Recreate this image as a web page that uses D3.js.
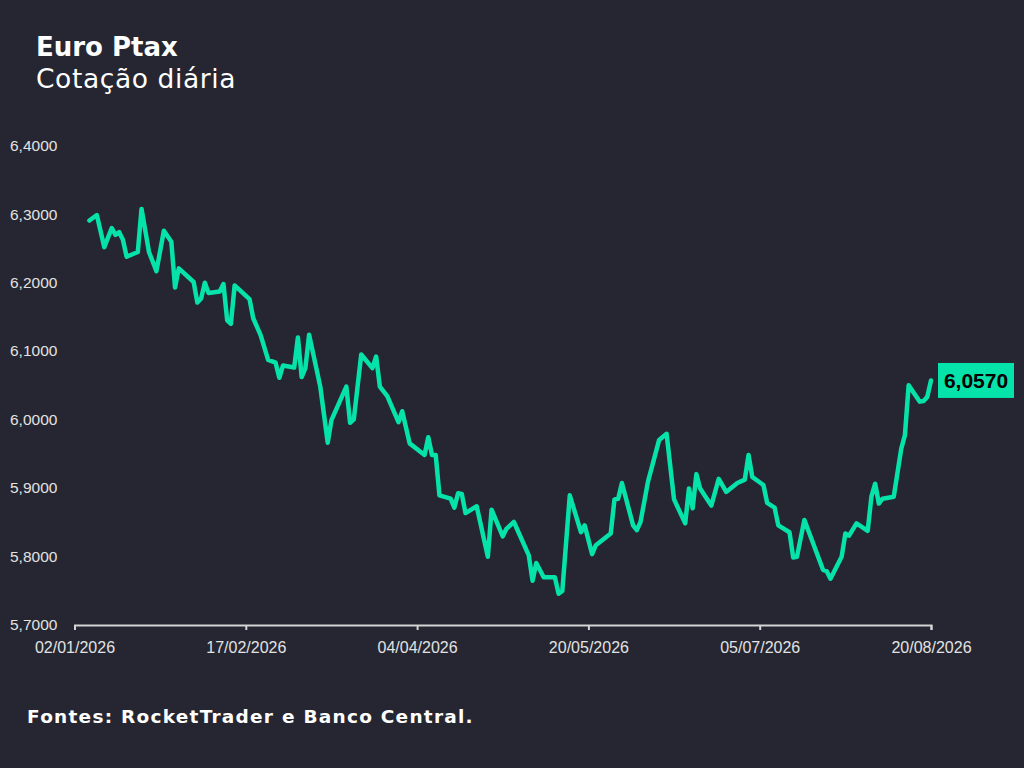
<!DOCTYPE html>
<html>
<head>
<meta charset="utf-8">
<script src="https://cdn.jsdelivr.net/npm/d3@7"></script>
<style>
  html, body { margin: 0; padding: 0; background: #252631; }
  svg { display: block; }
</style>
</head>
<body>
<svg id="chart" width="1024" height="768"></svg>
<script>
// datas das cotações (pontos de virada)
var dates = [
  "2026-01-06","2026-01-08","2026-01-10","2026-01-12","2026-01-13","2026-01-14","2026-01-15","2026-01-16",
  "2026-01-19","2026-01-20","2026-01-22","2026-01-24","2026-01-26","2026-01-28","2026-01-29","2026-01-30",
  "2026-02-03","2026-02-04","2026-02-05","2026-02-06","2026-02-07","2026-02-10","2026-02-11","2026-02-12",
  "2026-02-13","2026-02-14","2026-02-18","2026-02-19","2026-02-21","2026-02-23","2026-02-25","2026-02-26",
  "2026-02-27","2026-03-02","2026-03-03","2026-03-04","2026-03-05","2026-03-06","2026-03-09","2026-03-11",
  "2026-03-12","2026-03-16","2026-03-17","2026-03-18","2026-03-20","2026-03-23","2026-03-24","2026-03-25",
  "2026-03-27","2026-03-30","2026-03-31","2026-04-02","2026-04-06","2026-04-07","2026-04-08","2026-04-09",
  "2026-04-10","2026-04-13","2026-04-14","2026-04-15","2026-04-16","2026-04-17","2026-04-20","2026-04-23",
  "2026-04-24","2026-04-27","2026-04-28","2026-04-30","2026-05-04","2026-05-05","2026-05-06","2026-05-08",
  "2026-05-11","2026-05-12","2026-05-13","2026-05-15","2026-05-18","2026-05-19","2026-05-21","2026-05-22",
  "2026-05-26","2026-05-27","2026-05-28","2026-05-29","2026-06-01","2026-06-02","2026-06-03","2026-06-05",
  "2026-06-08","2026-06-10","2026-06-12","2026-06-15","2026-06-16","2026-06-17","2026-06-18","2026-06-19",
  "2026-06-22","2026-06-24","2026-06-26","2026-06-29","2026-07-01","2026-07-02","2026-07-03","2026-07-06",
  "2026-07-07","2026-07-09","2026-07-10","2026-07-13","2026-07-14","2026-07-15","2026-07-17","2026-07-22",
  "2026-07-23","2026-07-24","2026-07-27","2026-07-28","2026-07-29","2026-07-31","2026-08-03","2026-08-04",
  "2026-08-05","2026-08-06","2026-08-07","2026-08-10","2026-08-12","2026-08-13","2026-08-14","2026-08-17",
  "2026-08-18","2026-08-19","2026-08-20"
];

// euro ptax, R$
var ptax = [
  6.291, 6.299, 6.252, 6.280, 6.270, 6.274, 6.263, 6.238,
  6.245, 6.308, 6.245, 6.217, 6.276, 6.260, 6.193, 6.221,
  6.201, 6.171, 6.177, 6.200, 6.185, 6.187, 6.198, 6.145,
  6.140, 6.196, 6.176, 6.148, 6.123, 6.087, 6.083, 6.061,
  6.079, 6.076, 6.120, 6.062, 6.075, 6.124, 6.048, 5.966,
  5.999, 6.048, 5.995, 6.000, 6.095, 6.075, 6.092, 6.048,
  6.034, 5.996, 6.012, 5.965, 5.948, 5.974, 5.948, 5.948,
  5.889, 5.884, 5.871, 5.892, 5.891, 5.863, 5.873, 5.799,
  5.868, 5.829, 5.840, 5.850, 5.801, 5.764, 5.790, 5.769,
  5.769, 5.745, 5.749, 5.889, 5.835, 5.845, 5.803, 5.816,
  5.833, 5.883, 5.884, 5.907, 5.845, 5.838, 5.850, 5.909,
  5.970, 5.979, 5.883, 5.848, 5.899, 5.870, 5.920, 5.899,
  5.874, 5.913, 5.894, 5.907, 5.912, 5.948, 5.916, 5.904,
  5.878, 5.871, 5.845, 5.835, 5.798, 5.799, 5.853, 5.780,
  5.778, 5.767, 5.799, 5.833, 5.830, 5.848, 5.837, 5.887,
  5.906, 5.877, 5.884, 5.887, 5.957, 5.977, 6.050, 6.026,
  6.027, 6.033, 6.057
];

var xTicks = ["2026-01-02","2026-02-17","2026-04-04","2026-05-20","2026-07-05","2026-08-20"];
var yTicks = [5.7, 5.8, 5.9, 6.0, 6.1, 6.2, 6.3, 6.4];

var parse = d3.timeParse("%Y-%m-%d");
var data = dates.map(function(d, i) { return {date: parse(d), value: ptax[i]}; });

var svg = d3.select("#chart");
var green = "#05e3aa";
var tickFont = "'Liberation Sans', Arial, sans-serif";
var headFont = "'DejaVu Sans', sans-serif";

var x = d3.scaleTime()
  .domain([parse(xTicks[0]), parse(xTicks[xTicks.length - 1])])
  .range([74.5, 931]);

var y = d3.scaleLinear()
  .domain([5.7, 6.4])
  .range([624.5, 146]);

var fmt = d3.format(".4f");
function br(v) { return fmt(v).replace(".", ","); }

// titulo
svg.append("text")
  .attr("x", 36).attr("y", 56)
  .attr("fill", "#fff")
  .attr("font-family", headFont)
  .attr("font-weight", 700)
  .attr("font-size", 26)
  .text("Euro Ptax");

svg.append("text")
  .attr("x", 36).attr("y", 88)
  .attr("fill", "#fff")
  .attr("font-family", headFont)
  .attr("font-weight", 400)
  .attr("font-size", 26.5)
  .attr("letter-spacing", 0.6)
  .text("Cotação diária");

// eixo y (so os rotulos)
svg.append("g")
  .selectAll("text")
  .data(yTicks)
  .enter().append("text")
  .attr("x", 10)
  .attr("y", function(d) { return y(d); })
  .attr("dy", "0.35em")
  .attr("fill", "#e2e2e2")
  .attr("font-family", tickFont)
  .attr("font-size", 15.5)
  .text(br);

// eixo x
var xAxis = d3.axisBottom(x)
  .tickValues(xTicks.map(parse))
  .tickSize(5)
  .tickPadding(11.5)
  .tickFormat(d3.timeFormat("%d/%m/%Y"));

var gx = svg.append("g")
  .attr("transform", "translate(0,625)")
  .call(xAxis);

gx.select(".domain").attr("stroke", "#d4d4d4").attr("stroke-width", 2);
gx.selectAll(".tick line").attr("stroke", "#d4d4d4").attr("stroke-width", 2);
gx.selectAll(".tick text")
  .attr("fill", "#e2e2e2")
  .attr("font-family", tickFont)
  .attr("font-size", 16);

// linha
var line = d3.line()
  .x(function(d) { return x(d.date); })
  .y(function(d) { return y(d.value); });

svg.append("path")
  .datum(data)
  .attr("fill", "none")
  .attr("stroke", green)
  .attr("stroke-width", 4.5)
  .attr("stroke-linejoin", "round")
  .attr("stroke-linecap", "round")
  .attr("d", line);

// rotulo do ultimo valor
var last = data[data.length - 1];
var lx = x(last.date) + 7, ly = y(last.value);
svg.append("rect")
  .attr("x", lx).attr("y", ly - 17.5)
  .attr("width", 76).attr("height", 35)
  .attr("fill", green);
svg.append("text")
  .attr("x", lx + 38).attr("y", ly)
  .attr("dy", "0.36em")
  .attr("text-anchor", "middle")
  .attr("fill", "#000")
  .attr("font-family", tickFont)
  .attr("font-weight", 700)
  .attr("font-size", 21)
  .text(br(last.value));

// fonte
svg.append("text")
  .attr("x", 27).attr("y", 723)
  .attr("fill", "#fff")
  .attr("font-family", headFont)
  .attr("font-weight", 700)
  .attr("font-size", 18.5)
  .attr("letter-spacing", 1.25)
  .text("Fontes: RocketTrader e Banco Central.");
</script>
</body>
</html>
